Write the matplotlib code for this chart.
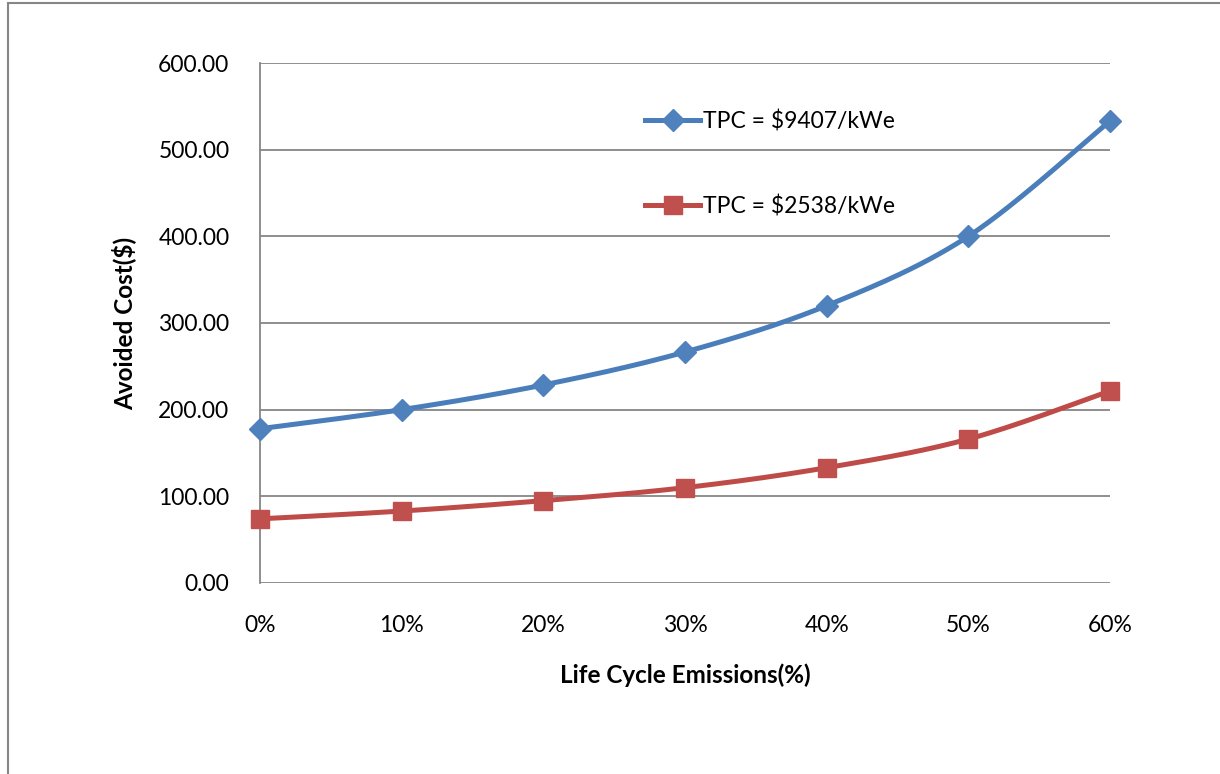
import numpy as np
import matplotlib.pyplot as plt
from matplotlib.patches import Rectangle

plt.rcParams['font.family'] = ['Lato', 'DejaVu Sans']

# emission share categories and avoided cost series
emissions = ['0%', '10%', '20%', '30%', '40%', '50%', '60%']
cost_tpc_9407 = [178, 200, 228.5, 266.5, 320, 400, 533]
cost_tpc_2538 = [74, 83, 95, 110, 133, 166, 221.5]


def smooth_curve(x, y, steps=30):
    # Bezier smoothing through the points (control points from neighbour slopes)
    pts = np.column_stack([x, y]).astype(float)
    padded = np.vstack([pts[0], pts, pts[-1]])
    out = []
    for i in range(len(pts) - 1):
        p0, p1, p2, p3 = padded[i], padded[i + 1], padded[i + 2], padded[i + 3]
        c1 = p1 + (p2 - p0) / 6.0
        c2 = p2 - (p3 - p1) / 6.0
        t = np.linspace(0, 1, steps)[:, None]
        seg = ((1 - t) ** 3) * p1 + 3 * ((1 - t) ** 2) * t * c1 + 3 * (1 - t) * t ** 2 * c2 + t ** 3 * p2
        out.append(seg if i == 0 else seg[1:])
    seg = np.vstack(out)
    return seg[:, 0], seg[:, 1]


fig = plt.figure(figsize=(12.2, 7.74), dpi=100)
ax = fig.add_axes([0.2131, 0.2468, 0.6967, 0.6718])

# outer chart border
fig.patches.append(Rectangle((8 / 1220, -0.1), 1.2, 1 - 3 / 774 + 0.1,
                             transform=fig.transFigure, fill=False,
                             edgecolor='#868686', linewidth=1.5))

xs = np.arange(len(emissions))
series = [
    (cost_tpc_9407, '#4A7EBB', '#4F81BD', 'D', 11, 'TPC = $9407/kWe'),
    (cost_tpc_2538, '#BE4B48', '#C0504D', 's', 13, 'TPC = $2538/kWe'),
]
for vals, lc, mc, mk, ms, label in series:
    sx, sy = smooth_curve(xs, vals)
    ax.plot(sx, sy, color=lc, linewidth=3.6, solid_capstyle='round', zorder=3,
            clip_on=False)
    ax.plot(xs, vals, linestyle='none', marker=mk, markersize=ms,
            color=mc, markeredgecolor=mc, zorder=4, clip_on=False)
    ax.plot([], [], color=lc, linewidth=3.6, marker=mk, markersize=ms,
            markerfacecolor=mc, markeredgecolor=mc, label=label)

ax.set_xlim(0, 6)
ax.set_ylim(0, 600)
ax.set_yticks(np.arange(0, 601, 100))
ax.set_yticklabels(['%.2f' % v for v in np.arange(0, 601, 100)])
ax.set_xticks(xs)
ax.set_xticklabels(emissions)
ax.yaxis.grid(True, color='#868686', linewidth=1.3)
ax.set_axisbelow(True)
for side in ['top', 'right', 'bottom']:
    ax.spines[side].set_visible(False)
ax.spines['left'].set_color('#868686')
ax.spines['left'].set_linewidth(1.3)
ax.tick_params(axis='both', length=0, labelsize=16.5)
ax.tick_params(axis='y', pad=22)
ax.tick_params(axis='x', pad=23)

ax.set_ylabel('Avoided Cost($)', fontsize=17.5, fontweight='bold', labelpad=16)
ax.set_xlabel('Life Cycle Emissions(%)', fontsize=17.5, fontweight='bold', labelpad=20)

ax.legend(loc='upper left', bbox_to_anchor=(0.44, 0.931), frameon=False,
          fontsize=16.5, handlelength=2.4, handletextpad=0.1,
          labelspacing=2.75, borderpad=0)

fig.savefig('out.png', dpi=100)
